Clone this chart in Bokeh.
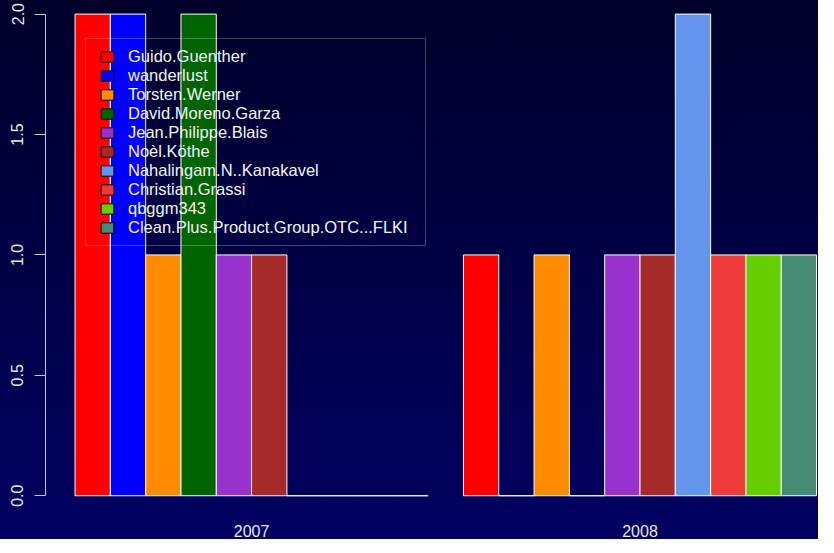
import math
from bokeh.plotting import figure
from bokeh.models import Legend, LegendItem, FixedTicker, BoxAnnotation, Range1d
from bokeh.embed import file_html
from bokeh.resources import INLINE

# ---- data ----
years = ["2007", "2008"]
authors = ["Guido.Guenther", "wanderlust", "Torsten.Werner", "David.Moreno.Garza",
           "Jean.Philippe.Blais", "Noèl.Köthe", "Nahalingam.N..Kanakavel",
           "Christian.Grassi", "qbggm343", "Clean.Plus.Product.Group.OTC...FLKI"]
counts_2007 = [2, 2, 1, 2, 1, 1, 0, 0, 0, 0]
counts_2008 = [1, 0, 1, 0, 1, 1, 2, 1, 1, 1]
colors = ["#FF0000", "#0000FF", "#FF8C00", "#006400", "#9932CC", "#A52A2A",
          "#6495ED", "#EE3B3B", "#66CD00", "#458B74"]
y_ticks = [0, 0.5, 1.0, 1.5, 2.0]

FONT = "Liberation Sans"
n = len(authors)
group_start = [1 + g * (n + 1) for g in range(len(years))]
group_center = [s + n / 2 for s in group_start]

p = figure(frame_width=773, frame_height=501,
           x_range=Range1d(0.1634, 22.055), y_range=Range1d(-0.0239, 2.0565),
           output_backend="svg", toolbar_location=None,
           min_border_left=45, min_border_right=0, min_border_top=0, min_border_bottom=36)
p.styles = {"background": "linear-gradient(#00002a, #000062)"}
p.background_fill_alpha = 0
p.border_fill_alpha = 0
p.outline_line_alpha = 0
p.xgrid.visible = False
p.ygrid.visible = False

series = [counts_2007, counts_2008]
legend_items = []
for i, (name, col) in enumerate(zip(authors, colors)):
    xs = [group_start[g] + i + 0.5 for g in range(len(years))]
    tops = [series[g][i] for g in range(len(years))]
    p.vbar(x=xs, top=tops, bottom=0, width=1, fill_color=col,
           line_color="white", line_width=1)
    dummy = p.vbar(x=[math.nan], top=[math.nan], bottom=0, width=1,
                   fill_color=col, line_color="black", line_width=1)
    legend_items.append(LegendItem(label=name, renderers=[dummy]))

# legend border (in data units, like R)
p.add_layout(BoxAnnotation(left=1.2962, right=10.925, bottom=1.0392, top=1.8991,
                           fill_alpha=0, line_color="#e0e0e0", line_width=1))

legend = Legend(items=legend_items, location=(40, 250), padding=14, spacing=0,
                margin=0, glyph_width=16, glyph_height=13, label_height=19,
                label_standoff=13, label_text_font=FONT, label_text_font_size="16.5px",
                label_text_color="#f4f4f4", background_fill_alpha=0,
                border_line_alpha=0)
p.add_layout(legend)

# x axis
xa = p.xaxis[0]
xa.ticker = FixedTicker(ticks=group_center)
xa.major_label_overrides = {c: y for c, y in zip(group_center, years)}
xa.axis_line_alpha = 0
xa.major_tick_line_alpha = 0
xa.minor_tick_line_alpha = 0
xa.major_tick_out = 0
xa.major_tick_in = 0
xa.major_label_standoff = 23
xa.major_label_text_font = FONT
xa.major_label_text_font_size = "16px"
xa.major_label_text_color = "#e8e8e8"

# y axis
ya = p.yaxis[0]
ya.ticker = FixedTicker(ticks=y_ticks)
ya.major_label_overrides = {t: f"{t:.1f}" for t in y_ticks}
ya.bounds = (0, 2)
ya.axis_line_color = "#c8c8c8"
ya.major_tick_line_color = "#c8c8c8"
ya.minor_tick_line_alpha = 0
ya.major_tick_out = 11
ya.major_tick_in = 0
ya.major_label_orientation = "vertical"
ya.major_label_standoff = 11
ya.major_label_text_font = FONT
ya.major_label_text_font_size = "16px"
ya.major_label_text_color = "#e8e8e8"

open("out.html", "w").write(file_html(p, INLINE))
